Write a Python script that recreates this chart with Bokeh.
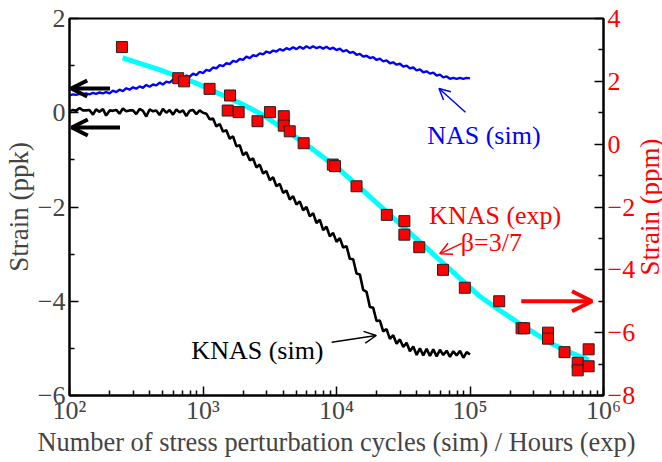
import math
from bokeh.plotting import figure
from bokeh.layouts import row
from bokeh.models import (Range1d, LinearAxis, FixedTicker, Arrow, OpenHead,
                          Label, CustomJSTickFormatter)
from bokeh.core.properties import value
from bokeh.embed import file_html
from bokeh.resources import INLINE

FONT = "Liberation Serif"

# ---------------- data ----------------
sim_cycles = [100, 106, 112, 119, 126, 133, 141, 150, 158, 168, 178, 188, 200, 211, 224,
              237, 251, 266, 282, 299, 316, 335, 355, 376, 398, 422, 447, 473, 501, 531,
              562, 596, 631, 668, 708, 750, 794, 841, 891, 944,
              1000, 1059, 1122, 1189, 1259, 1334, 1413, 1496, 1585, 1679, 1778, 1884, 1995,
              2113, 2239, 2371, 2512, 2661, 2818, 2985, 3162, 3350, 3548, 3758, 3981, 4217,
              4467, 4732, 5012, 5309, 5623, 5957, 6310, 6683, 7079, 7499, 7943, 8414, 8913,
              9441,
              10000, 10593, 11220, 11885, 12589, 13335, 14125, 14962, 15849, 16788, 17783,
              18836, 19953, 21135, 22387, 23714, 25119, 26607, 28184, 29854, 31623, 33497,
              35481, 37584, 39811, 42170, 44668, 47315, 50119, 53088, 56234, 59566, 63096,
              66834, 70795, 74989, 79433, 84140, 89125, 94406, 100000]

# KNAS (sim), strain in ppk (left axis)
knas_sim = [0.03, 0.06, 0.04, 0.10, 0.05, 0.05, 0.06, -0.04, 0.07, 0.02, 0.08, -0.06,
            0.05, 0.04, 0.06, -0.02, 0.09, 0.03, 0.05, 0.05, -0.03, 0.08, 0.04, -0.08,
            0.07, 0.03, 0.05, -0.05, 0.08, 0.00, 0.06, -0.04, 0.07, 0.01, 0.05, -0.07,
            0.04, 0.06, -0.03, 0.05, 0.00,
            -0.02, -0.14, -0.12, -0.29, -0.24, -0.40, -0.37, -0.55, -0.50, -0.71,
            -0.69, -0.90, -0.84, -1.01, -0.97, -1.16, -1.10, -1.29, -1.24, -1.43,
            -1.37, -1.56, -1.51, -1.70, -1.65, -1.84, -1.77, -1.95, -1.88, -2.07,
            -2.00, -2.20, -2.13, -2.34, -2.27, -2.49, -2.42, -2.62, -2.55, -2.74,
            -2.66, -2.86, -2.83, -3.10, -3.11, -3.41, -3.43, -3.76, -3.80, -4.12,
            -4.14, -4.42, -4.41, -4.64, -4.59, -4.80, -4.72, -4.90, -4.81, -4.97,
            -4.88, -5.06, -4.96, -5.14, -5.00, -5.15, -5.01, -5.16, -5.02, -5.17,
            -5.03, -5.14, -5.05, -5.18, -5.06, -5.15, -5.05, -5.20, -5.08, -5.13]

# NAS (sim), strain in ppk (left axis)
nas_sim = [0.37, 0.39, 0.38, 0.40, 0.39, 0.41, 0.39, 0.42, 0.40, 0.43, 0.41, 0.44,
           0.41, 0.47, 0.44, 0.49, 0.46, 0.52, 0.49, 0.54, 0.51, 0.56, 0.53, 0.59,
           0.55, 0.60, 0.58, 0.64, 0.60, 0.66, 0.64, 0.70, 0.67, 0.73, 0.71, 0.79,
           0.76, 0.83, 0.80, 0.87, 0.84,
           0.91, 0.89, 0.96, 0.94, 1.01, 0.99, 1.05, 1.03, 1.10, 1.08,
           1.14, 1.12, 1.19, 1.16, 1.22, 1.20, 1.26, 1.24, 1.30, 1.27,
           1.32, 1.30, 1.35, 1.32, 1.37, 1.34, 1.39, 1.35, 1.40, 1.36,
           1.41, 1.37, 1.41, 1.37, 1.40, 1.36, 1.40, 1.35, 1.38, 1.33,
           1.36, 1.30, 1.33, 1.27, 1.29, 1.23, 1.25, 1.19, 1.21, 1.16,
           1.18, 1.12, 1.15, 1.09, 1.11, 1.05, 1.07, 1.02, 1.04, 0.98,
           1.00, 0.94, 0.96, 0.90, 0.92, 0.86, 0.88, 0.83, 0.85, 0.79,
           0.81, 0.75, 0.77, 0.72, 0.74, 0.72, 0.74, 0.72, 0.74, 0.73]

# KNAS (exp), strain in ppm (right axis)
exp_hours = [247, 652, 722, 1120, 1593, 1531, 1849, 2559, 3172, 4027, 4027, 4463,
             5675, 9380, 9750, 14125, 23820, 32240, 32240, 41680, 62800, 91450,
             165500, 243400, 254700, 383900, 383900, 510500, 641000, 641000,
             774000, 774000]
exp_strain = [3.09, 2.10, 2.00, 1.76, 1.55, 1.07, 1.02, 0.73, 1.02, 0.89, 0.59, 0.41,
              0.03, -0.65, -0.70, -1.34, -2.25, -2.45, -2.88, -3.28, -4.00, -4.57,
              -5.00, -5.86, -5.86, -6.00, -6.19, -6.62, -6.96, -7.20, -6.53, -7.07]

# stretched-exponential fit (beta = 3/7), ppm (right axis)
fit_hours = [250, 490, 861, 1923, 2851, 5636, 10035, 15740, 24950, 41650, 62800,
             92500, 116100, 163400, 259200, 404300, 588800, 774000]
fit_strain = [2.75, 2.345, 1.97, 1.295, 0.913, 0.063, -0.733, -1.474, -2.238, -3.097,
              -3.782, -4.434, -4.816, -5.262, -5.834, -6.344, -6.662, -6.863]

x_ticks = [1e2, 1e3, 1e4, 1e5, 1e6]
x_tick_labels = ["10²", "10³", "10⁴", "10⁵", "10⁶"]
left_ticks = [-6, -4, -2, 0, 2]
left_minor = [-5, -3, -1, 1]
right_ticks = [-8, -6, -4, -2, 0, 2, 4]
right_minor = [-7, -5, -3, -1, 1, 3]
right_title = "Strain (ppm)"

# ---------------- main figure ----------------
p = figure(width=638, height=462, x_axis_type="log",
           x_range=Range1d(1e2, 1e6), y_range=Range1d(-6, 2),
           output_backend="svg", toolbar_location=None,
           min_border_left=67, min_border_right=32,
           min_border_top=18, min_border_bottom=67)
p.extra_y_ranges = {"ppm": Range1d(-8, 4)}
p.grid.visible = False
p.outline_line_color = "black"
p.outline_line_width = 2

x_minor = [m * t for t in x_ticks[:-1] for m in range(2, 10)]

xa = p.xaxis[0]
xa.ticker = FixedTicker(ticks=x_ticks, minor_ticks=x_minor)
xa.formatter = CustomJSTickFormatter(
    args=dict(tvals=x_ticks, tlabels=x_tick_labels),
    code="""
    for (let i = 0; i < tvals.length; i++) {
        if (Math.abs(Math.log10(tvals[i]) - Math.log10(tick)) < 1e-6) return tlabels[i];
    }
    return '';
    """)
xa.axis_label = "Number of stress perturbation cycles (sim) / Hours (exp)"

ya = p.yaxis[0]
ya.ticker = FixedTicker(ticks=left_ticks, minor_ticks=left_minor)
ya.axis_label = "Strain (ppk)"

ra = LinearAxis(y_range_name="ppm",
                ticker=FixedTicker(ticks=right_ticks, minor_ticks=right_minor))
p.add_layout(ra, "right")

for ax in (xa, ya, ra):
    ax.axis_line_width = 2
    ax.axis_line_color = "black"
    ax.major_tick_in = 9
    ax.major_tick_out = 0
    ax.minor_tick_in = 5
    ax.minor_tick_out = 0
    ax.major_tick_line_width = 1.5
    ax.minor_tick_line_width = 1.5
    ax.major_label_text_font = FONT
    ax.major_label_text_font_size = "26px"
    ax.axis_label_text_font = FONT
    ax.axis_label_text_font_size = "27px"
    ax.axis_label_text_font_style = "normal"
    ax.major_label_standoff = 4

xa.axis_label_text_font_size = "26.4px"
xa.major_label_standoff = 0
xa.axis_label_standoff = -1
ya.axis_label_standoff = 1
ra.major_label_text_color = "#FF0000"

# ---------------- series ----------------
p.line(sim_cycles, knas_sim, line_color="black", line_width=2.6)
p.line(sim_cycles, nas_sim, line_color="#0000FF", line_width=2.4)
p.line(fit_hours, fit_strain, line_color="#00FFFF", line_width=5, y_range_name="ppm")
p.scatter(exp_hours, exp_strain, marker="square", size=11, fill_color="#FF0000",
          line_color="#202020", line_width=1, y_range_name="ppm")

# ---------------- annotations ----------------
def arrow(x0, y0, x1, y1, color, lw, size, rng="default"):
    p.add_layout(Arrow(x_start=x0, y_start=y0, x_end=x1, y_end=y1,
                       line_color=color, line_width=lw, y_range_name=rng,
                       end=OpenHead(size=size, line_color=color, line_width=lw)))

arrow(201, 0.515, 103, 0.515, "black", 4, 16)
arrow(239, -0.313, 104, -0.313, "black", 4, 16)
arrow(242000, -5.0, 820000, -5.0, "#FF0000", 4, 20, "ppm")
arrow(92500, 0.012, 58600, 0.515, "#0000FF", 1.5, 11)
arrow(9200, -4.87, 19860, -4.727, "black", 1.5, 12)
arrow(86900, -3.16, 59300, -3.49, "#FF0000", 1.5, 12, "ppm")

def text(x, y, s, color, rng="default"):
    p.add_layout(Label(x=x, y=y, text=s, text_color=color, text_font=FONT,
                       text_font_size="26px", text_baseline="alphabetic",
                       text_align="left", y_range_name=rng))

text(47800, -0.483, "NAS (sim)", "#0000FF")
text(818, -5.045, "KNAS (sim)", "black")
text(49400, -2.27, "KNAS (exp)", "#FF0000", "ppm")
text(85300, -3.13, "β=3/7", "#FF0000", "ppm")

# ---------------- narrow strip carrying the right-hand axis title ----------------
q = figure(width=24, height=462, x_range=Range1d(0, 1), y_range=Range1d(-8, 4),
           output_backend="svg", toolbar_location=None,
           min_border_left=0, min_border_right=0,
           min_border_top=18, min_border_bottom=67)
q.axis.visible = False
q.grid.visible = False
q.outline_line_color = None
q.text(x=[0.46], y=[-2], text=[right_title], angle=math.pi / 2,
       text_color="#FF0000", text_font=value(FONT), text_font_size="27px",
       text_align="center", text_baseline="middle")

layout = row(p, q, spacing=0)
open("out.html", "w").write(file_html(layout, INLINE))
